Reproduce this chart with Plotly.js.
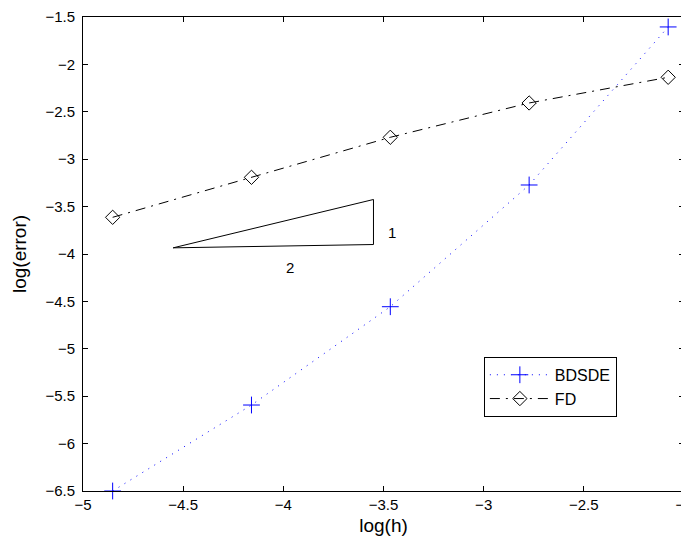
<!DOCTYPE html>
<html>
<head>
<meta charset="utf-8">
<script src="https://cdn.plot.ly/plotly-3.0.1.min.js"></script>
<style>html,body{margin:0;padding:0;overflow:hidden;background:#fff;width:681px;height:542px;}</style>
</head>
<body>
<div id="chart"></div>
<script>
// log(h) values, h = 1/128 ... 1/8
const logH = [-4.852, -4.159, -3.466, -2.773, -2.079];
const bdsde = [-6.50, -5.593, -4.556, -3.272, -1.605];
const fd = [-3.613, -3.191, -2.769, -2.407, -2.136];
// slope triangle
const triX = [-4.55, -3.55, -3.55, -4.55];
const triY = [-3.935, -3.425, -3.90, -3.935];
const xTicks = [-5, -4.5, -4, -3.5, -3, -2.5, -2];
const yTicks = [-6.5, -6, -5.5, -5, -4.5, -4, -3.5, -3, -2.5, -2, -1.5];

const fam = 'Liberation Sans, Arial, sans-serif';
const font = {family: fam, size: 15, color: '#000'};
const legFont = {family: fam, size: 16, color: '#000'};
const titleFont = {family: fam, size: 19, color: '#000'};
const fmt = v => String(v).replace('-', '\u2212');

const traces = [
  {x: logH, y: bdsde, name: 'BDSDE', type: 'scatter', mode: 'lines+markers',
   line: {color: 'rgb(0,0,255)', dash: '1px,6px', width: 1},
   marker: {symbol: 'cross-thin-open', size: 12, color: 'rgb(0,0,255)', line: {color: 'rgb(0,0,255)', width: 1}},
   cliponaxis: false},
  {x: logH, y: fd, name: 'FD', type: 'scatter', mode: 'lines+markers',
   line: {color: '#000', dash: '10px,6px,2px,6px', width: 1},
   marker: {symbol: 'diamond-open', size: 11, color: '#000', line: {color: '#000', width: 1}},
   cliponaxis: false},
  {x: triX, y: triY, type: 'scatter', mode: 'lines', showlegend: false,
   line: {color: '#000', width: 1}, hoverinfo: 'skip'}
];

const axisCommon = {
  showgrid: false, zeroline: false, showline: true, linecolor: '#000', linewidth: 1,
  mirror: 'ticks', ticks: 'inside', ticklen: 5, tickcolor: '#000', tickwidth: 1,
  tickfont: font, ticklabeloverflow: 'allow'
};

const layout = {
  width: 684, height: 542,
  margin: {l: 83, r: 0, t: 17, b: 51},
  paper_bgcolor: '#fff', plot_bgcolor: '#fff',
  font: font,
  xaxis: Object.assign({}, axisCommon, {
    range: [-5, -2], tickvals: xTicks, ticktext: xTicks.map(fmt),
    title: {text: 'log(h)', font: titleFont, standoff: 6}
  }),
  yaxis: Object.assign({}, axisCommon, {
    range: [-6.5, -1.5], tickvals: yTicks, ticktext: yTicks.map(fmt),
    ticklabelstandoff: 4,
    title: {text: 'log(error)', font: titleFont, standoff: 13}
  }),
  showlegend: true,
  legend: {x: 0.667, y: 0.283, xanchor: 'left', yanchor: 'top',
    bordercolor: '#000', borderwidth: 1, bgcolor: '#fff', font: legFont,
    itemwidth: 60, tracegroupgap: 0},
  annotations: [
    {x: -3.458, y: -3.77, text: '1', showarrow: false, font: font, xref: 'x', yref: 'y'},
    {x: -3.967, y: -4.14, text: '2', showarrow: false, font: font, xref: 'x', yref: 'y'}
  ]
};

Plotly.newPlot('chart', traces, layout, {displayModeBar: false, staticPlot: true});
</script>
</body>
</html>
